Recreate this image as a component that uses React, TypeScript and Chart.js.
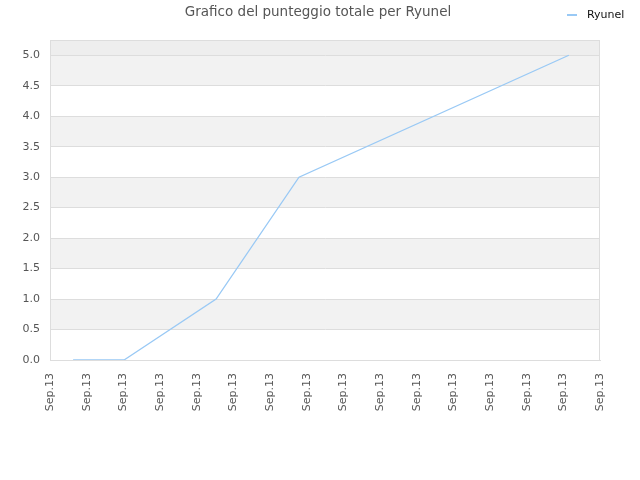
import React, { useEffect, useRef } from "react";
import { Chart, registerables } from "chart.js";

Chart.register(...registerables);

const titleText = "Grafico del punteggio totale per Ryunel";
const seriesName = "Ryunel";
const tickLabel = "Sep.13";
const xPositions = [0.63, 2.02, 4.53, 6.79, 14.15];
const scores = [0, 0, 1, 3, 5];
const yTicks = [0, 0.5, 1, 1.5, 2, 2.5, 3, 3.5, 4, 4.5, 5];

const FONT = "'DejaVu Sans', sans-serif";
const LINE_COLOR = "#99c9f5";

const bandsPlugin = {
  id: "bands",
  beforeDraw(chart: any) {
    const { ctx, chartArea, scales } = chart;
    const y = scales.y;
    ctx.save();
    const top5 = y.getPixelForValue(5);
    ctx.fillStyle = "#eeeeee";
    ctx.fillRect(chartArea.left, chartArea.top, chartArea.right - chartArea.left, top5 - chartArea.top);
    for (let i = 0; i < yTicks.length - 1; i++) {
      if (i % 2 === 1) {
        const a = y.getPixelForValue(yTicks[i + 1]);
        const b = y.getPixelForValue(yTicks[i]);
        ctx.fillStyle = "#f2f2f2";
        ctx.fillRect(chartArea.left, a, chartArea.right - chartArea.left, b - a);
      }
    }
    ctx.restore();
  },
  afterDraw(chart: any) {
    const { ctx, chartArea } = chart;
    ctx.save();
    ctx.strokeStyle = "#dddddd";
    ctx.lineWidth = 1;
    ctx.strokeRect(chartArea.left + 0.5, chartArea.top + 0.5, chartArea.right - chartArea.left - 1, chartArea.bottom - chartArea.top);
    // title
    ctx.fillStyle = "#555555";
    ctx.font = `13.5px ${FONT}`;
    ctx.textBaseline = "middle";
    ctx.textAlign = "center";
    ctx.fillText(titleText, 318, 12);
    // legend
    ctx.strokeStyle = LINE_COLOR;
    ctx.lineWidth = 2;
    ctx.beginPath();
    ctx.moveTo(567, 15);
    ctx.lineTo(577, 15);
    ctx.stroke();
    ctx.fillStyle = "#111111";
    ctx.font = `11px ${FONT}`;
    ctx.textAlign = "left";
    ctx.fillText(seriesName, 587, 15);
    ctx.restore();
  },
};

export default function App() {
  const ref = useRef<HTMLCanvasElement | null>(null);
  useEffect(() => {
    if (!ref.current) return;
    const chart = new Chart(ref.current, {
      type: "line",
      data: {
        datasets: [
          {
            label: seriesName,
            data: xPositions.map((x, i) => ({ x, y: scores[i] })),
            borderColor: LINE_COLOR,
            backgroundColor: LINE_COLOR,
            borderWidth: 1.3,
            pointRadius: 0,
            tension: 0,
          },
        ],
      },
      options: {
        animation: false,
        responsive: false,
        layout: { padding: { left: 0, right: 40, top: 40, bottom: 0 } },
        plugins: {
          legend: { display: false },
          tooltip: { enabled: false },
          title: { display: false },
        },
        scales: {
          x: {
            type: "linear",
            min: 0,
            max: 15,
            afterFit: (scale: any) => {
              scale.height = 120;
            },
            ticks: {
              stepSize: 1,
              autoSkip: false,
              maxRotation: 90,
              minRotation: 90,
              color: "#555555",
              font: { family: FONT, size: 11 },
              padding: 7,
              callback: () => tickLabel,
            },
            grid: { display: false, drawTicks: true, tickLength: 6, tickColor: "rgba(0,0,0,0)" },
            border: { display: true, color: "#dddddd" },
          },
          y: {
            min: 0,
            max: 5.25,
            afterFit: (scale: any) => {
              scale.width = 50;
            },
            afterBuildTicks: (scale: any) => {
              scale.ticks = yTicks.map((v) => ({ value: v }));
            },
            ticks: {
              color: "#555555",
              font: { family: FONT, size: 11 },
              padding: 10,
              callback: (v: any) => Number(v).toFixed(1),
            },
            grid: { color: "#dddddd", drawTicks: false },
            border: { display: true, color: "#dddddd" },
          },
        },
      },
      plugins: [bandsPlugin],
    });
    return () => chart.destroy();
  }, []);
  return (
    <div style={{ position: "fixed", left: 0, top: 0, width: 640, height: 480, background: "#fff" }}>
      <canvas ref={ref} width={640} height={480} />
    </div>
  );
}
